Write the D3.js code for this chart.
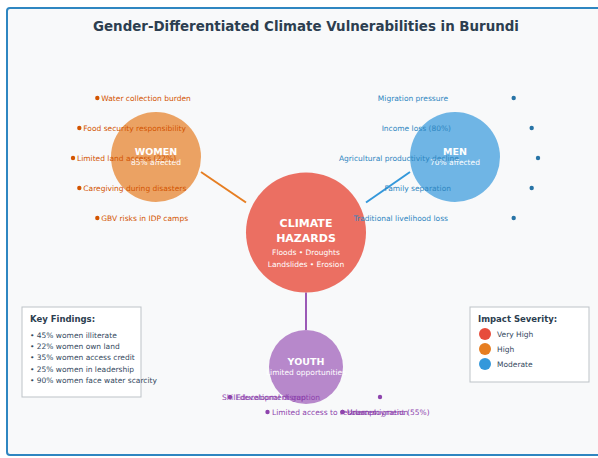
<!DOCTYPE html>
<html>
<head>
<meta charset="utf-8">
<script src="https://cdn.jsdelivr.net/npm/d3@7"></script>
<style>
  body { margin: 0; background: #fff; }
  svg { display: block; font-family: "DejaVu Sans", sans-serif; }
</style>
</head>
<body>
<div id="chart"></div>
<script>
// data
const groups = ["WOMEN", "MEN", "YOUTH"];
const groupSubs = ["85% affected", "70% affected", "Limited opportunities"];
const hazardLines = ["Floods • Droughts", "Landslides • Erosion"];
const womenItems = ["Water collection burden", "Food security responsibility", "Limited land access (22%)", "Caregiving during disasters", "GBV risks in IDP camps"];
const menItems = ["Migration pressure", "Income loss (80%)", "Agricultural productivity decline", "Family separation", "Traditional livelihood loss"];
const youthItems = ["Educational disruption", "Limited access to resources", "Urban migration", "Unemployment (55%)", "Skill development gap"];
const findings = ["45% women illiterate", "22% women own land", "35% women access credit", "25% women in leadership", "90% women face water scarcity"];
const severity = ["Very High", "High", "Moderate"];
const severityColors = ["#e74c3c", "#e67e22", "#3498db"];

const W = 598, H = 458;
const svg = d3.select("#chart").append("svg").attr("width", W).attr("height", H);

svg.append("rect").attr("x", 7).attr("y", 8).attr("width", 610).attr("height", 447)
  .attr("rx", 3).attr("fill", "#f8f9fa").attr("stroke", "#2e86c1").attr("stroke-width", 2);

svg.append("text").attr("x", 306).attr("y", 31).attr("text-anchor", "middle")
  .attr("font-size", 13.4).attr("font-weight", "bold").attr("fill", "#2c3e50")
  .text("Gender-Differentiated Climate Vulnerabilities in Burundi");

const hub = {x: 306, y: 232.5, r: 60};
const nodes = [
  {x: 156, y: 157, r: 45, color: "#e67e22", text: "#d35400", dot: "#d35400", items: womenItems},
  {x: 455, y: 157, r: 45, color: "#3498db", text: "#2e86c1", dot: "#2874a6", items: menItems},
  {x: 306, y: 367, r: 37, color: "#9b59b6", text: "#8e44ad", dot: "#8e44ad", items: youthItems}
];

// connectors
svg.append("line").attr("x1", nodes[0].x + nodes[0].r).attr("y1", nodes[0].y + 15)
  .attr("x2", hub.x - hub.r).attr("y2", hub.y - 30).attr("stroke", nodes[0].color).attr("stroke-width", 2);
svg.append("line").attr("x1", nodes[1].x - nodes[1].r).attr("y1", nodes[1].y + 15)
  .attr("x2", hub.x + hub.r).attr("y2", hub.y - 30).attr("stroke", nodes[1].color).attr("stroke-width", 2);
svg.append("line").attr("x1", hub.x).attr("y1", hub.y + hub.r)
  .attr("x2", nodes[2].x).attr("y2", nodes[2].y - nodes[2].r).attr("stroke", nodes[2].color).attr("stroke-width", 2);

// hub
svg.append("circle").attr("cx", hub.x).attr("cy", hub.y).attr("r", hub.r)
  .attr("fill", "#e74c3c").attr("opacity", 0.8);
["CLIMATE", "HAZARDS"].forEach((t, i) => {
  svg.append("text").attr("x", hub.x).attr("y", hub.y - 6 + i * 15).attr("text-anchor", "middle")
    .attr("font-size", 11).attr("font-weight", "bold").attr("fill", "#fff").text(t);
});
hazardLines.forEach((t, i) => {
  svg.append("text").attr("x", hub.x).attr("y", hub.y + 22 + i * 12).attr("text-anchor", "middle")
    .attr("font-size", 7.5).attr("fill", "#fff").text(t);
});

// group circles
nodes.forEach((n, k) => {
  svg.append("circle").attr("cx", n.x).attr("cy", n.y).attr("r", n.r)
    .attr("fill", n.color).attr("opacity", 0.7);
  svg.append("text").attr("x", n.x).attr("y", n.y - 2).attr("text-anchor", "middle")
    .attr("font-size", 9.5).attr("font-weight", "bold").attr("fill", "#fff").text(groups[k]);
  svg.append("text").attr("x", n.x).attr("y", n.y + 8).attr("text-anchor", "middle")
    .attr("font-size", 7.5).attr("fill", "#fff").text(groupSubs[k]);
});

// side labels
const R = 83;
const ang = d3.scaleLinear().domain([0, 4]).range([-Math.PI / 4, Math.PI / 4]);
const menNudge = [-7, -4, 4, -4, -7];
const labelSize = 7.5;

womenItems.forEach((t, i) => {
  const n = nodes[0], a = Math.PI - ang(i);
  const x = n.x + R * Math.cos(a), y = n.y + (i - 2) * 30 + 1;
  svg.append("circle").attr("cx", x).attr("cy", y).attr("r", 2.2).attr("fill", n.dot);
  svg.append("text").attr("x", x + 4).attr("y", y).attr("dy", "0.35em")
    .attr("font-size", labelSize).attr("fill", n.text).text(t);
});

menItems.forEach((t, i) => {
  const n = nodes[1], a = ang(i);
  const x = n.x + R * Math.cos(a), y = n.y + (i - 2) * 30 + 1;
  svg.append("circle").attr("cx", x).attr("cy", y).attr("r", 2.2).attr("fill", n.dot);
  svg.append("text").attr("x", n.x + menNudge[i]).attr("y", y).attr("dy", "0.35em")
    .attr("text-anchor", "end").attr("font-size", labelSize).attr("fill", n.text).text(t);
});

// youth labels along bottom
const yx = d3.scaleLinear().domain([0, 4]).range([-76, 74]);
const youthSlot = [0, 1, 3, 3, 4];
const youthDy = [30, 45, 45, 45, 30];
const youthTextX = [236, 272, 347, 347, 222];
youthItems.forEach((t, i) => {
  const n = nodes[2];
  const x = n.x + yx(youthSlot[i]), y = n.y + youthDy[i];
  svg.append("circle").attr("cx", x).attr("cy", y).attr("r", 2.2).attr("fill", n.dot);
  const ty = i === 4 ? n.y + youthDy[0] : y;
  svg.append("text").attr("x", youthTextX[i]).attr("y", ty).attr("dy", "0.35em")
    .attr("font-size", labelSize).attr("fill", n.text).text(t);
});

// key findings
svg.append("rect").attr("x", 22).attr("y", 307).attr("width", 119).attr("height", 90)
  .attr("fill", "#fff").attr("stroke", "#bdc3c7").attr("stroke-width", 1);
svg.append("text").attr("x", 30).attr("y", 322).attr("font-size", 8.5).attr("font-weight", "bold")
  .attr("fill", "#2c3e50").text("Key Findings:");
findings.forEach((t, i) => {
  svg.append("text").attr("x", 30).attr("y", 335 + i * 11.4).attr("dy", "0.35em")
    .attr("font-size", 7.5).attr("fill", "#34495e").text("• " + t);
});

// severity legend
svg.append("rect").attr("x", 470).attr("y", 307).attr("width", 119).attr("height", 75)
  .attr("fill", "#fff").attr("stroke", "#bdc3c7").attr("stroke-width", 1);
svg.append("text").attr("x", 478).attr("y", 322).attr("font-size", 8.5).attr("font-weight", "bold")
  .attr("fill", "#2c3e50").text("Impact Severity:");
severity.forEach((t, i) => {
  svg.append("circle").attr("cx", 485).attr("cy", 334 + i * 15).attr("r", 6).attr("fill", severityColors[i]);
  svg.append("text").attr("x", 497).attr("y", 334 + i * 15).attr("dy", "0.35em")
    .attr("font-size", 7.5).attr("fill", "#34495e").text(t);
});
</script>
</body>
</html>
